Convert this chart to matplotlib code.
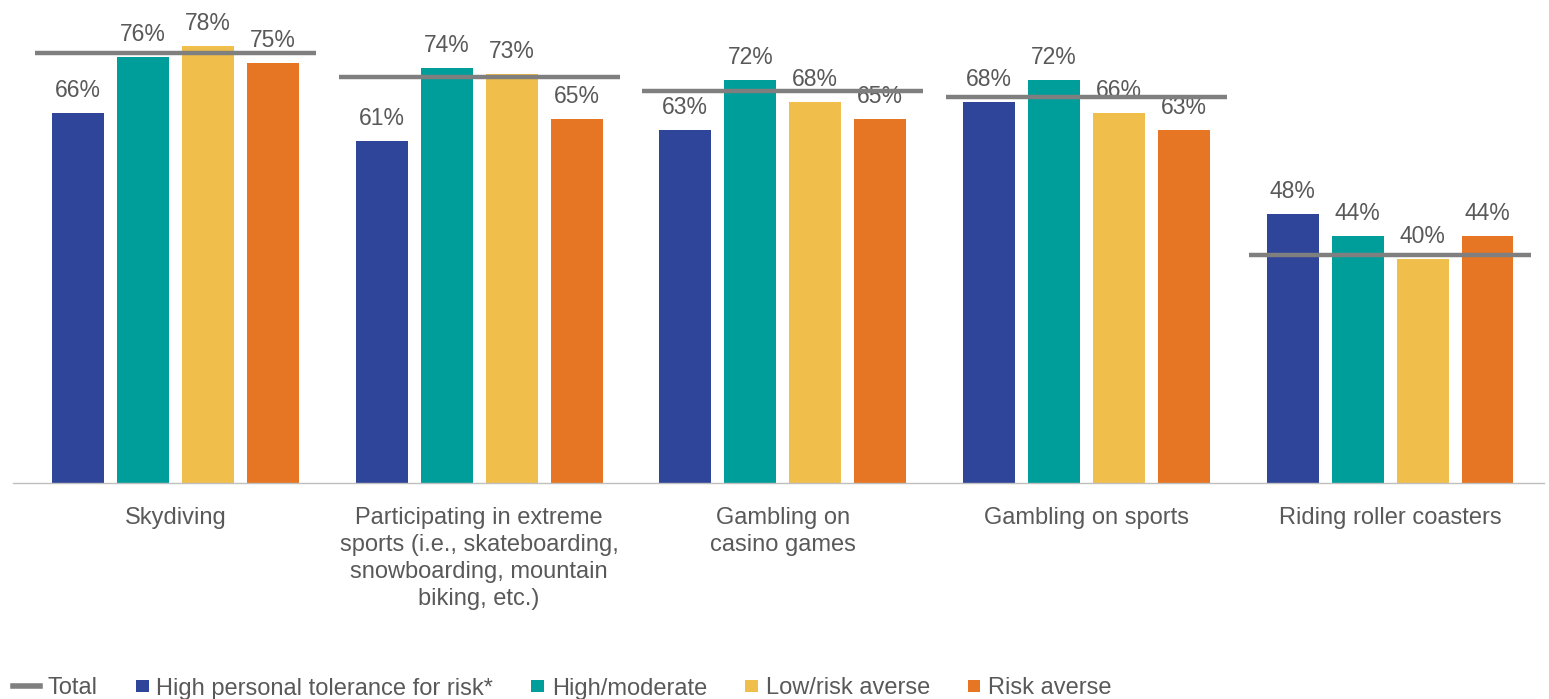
import numpy as np
import matplotlib
matplotlib.use("Agg")
import matplotlib.pyplot as plt
from matplotlib import font_manager
from matplotlib.lines import Line2D
from matplotlib.patches import Rectangle

# keep the regular-width Liberation Sans, drop the Narrow cut
font_manager.fontManager.ttflist = [
    f for f in font_manager.fontManager.ttflist if "Narrow" not in f.fname
]
plt.rcParams["font.family"] = ["Liberation Sans", "DejaVu Sans"]

categories = [
    "Skydiving",
    "Participating in extreme\nsports (i.e., skateboarding,\nsnowboarding, mountain\nbiking, etc.)",
    "Gambling on\ncasino games",
    "Gambling on sports",
    "Riding roller coasters",
]
series_names = [
    "High personal tolerance for risk*",
    "High/moderate",
    "Low/risk averse",
    "Risk averse",
]
high_tolerance = [66, 61, 63, 68, 48]
high_moderate = [76, 74, 72, 72, 44]
low_risk_averse = [78, 73, 68, 66, 40]
risk_averse = [75, 65, 65, 63, 44]
total = [76.8, 72.5, 70.0, 68.9, 40.7]

colors = ["#2F459A", "#009E9A", "#F0BE4A", "#E67623"]
text_color = "#595959"
total_color = "#7F7F7F"

W, H = 1549, 699
fig = plt.figure(figsize=(W / 100, H / 100), dpi=100)
ax = fig.add_axes([13 / W, 216 / H, 1531 / W, 483 / H])

x = np.arange(len(categories))
pitch = 0.214
width = 0.171
series = [high_tolerance, high_moderate, low_risk_averse, risk_averse]

for i, vals in enumerate(series):
    pos = x + (i - 1.5) * pitch
    bars = ax.bar(pos, vals, width, color=colors[i], label=series_names[i], zorder=2)
    for b, v in zip(bars, vals):
        ax.annotate(f"{v}%", (b.get_x() + b.get_width() / 2, v),
                    xytext=(0, 11.5), textcoords="offset points",
                    ha="center", va="baseline", fontsize=16.5, color=text_color)

# total marker line across each group
for xi, t in zip(x, total):
    ax.hlines(t, xi - 0.463, xi + 0.463, color=total_color, linewidth=3.2, zorder=3)

ax.set_xlim(-0.535, 4.507)
ax.set_ylim(0, 86.2)
ax.set_yticks([])
ax.set_xticks(x)
ax.set_xticklabels(categories, fontsize=17, color=text_color, linespacing=1.3, va="top")
ax.tick_params(axis="x", length=0, pad=17)
for side in ["top", "right", "left"]:
    ax.spines[side].set_visible(False)
ax.spines["bottom"].set_color("#BFBFBF")
ax.spines["bottom"].set_linewidth(1)

# legend row along the bottom, laid out left to right in pixels
renderer = fig.canvas.get_renderer()
leg_y = (H - 686) / H
cursor = 13
fig.add_artist(Line2D([cursor / W, (cursor + 27) / W], [leg_y, leg_y],
                      transform=fig.transFigure, color=total_color, linewidth=4))
cursor += 27 + 8
names = ["Total"] + series_names
for k, name in enumerate(names):
    if k > 0:
        sq = 12.5
        fig.add_artist(Rectangle((cursor / W, leg_y - sq / 2 / H), sq / W, sq / H,
                                 transform=fig.transFigure, color=colors[k - 1], lw=0))
        cursor += sq + 8
    t = fig.text(cursor / W, leg_y, name, fontsize=17, color=text_color,
                 ha="left", va="center_baseline")
    cursor += t.get_window_extent(renderer).width + 38

fig.savefig("out.png", dpi=100)
